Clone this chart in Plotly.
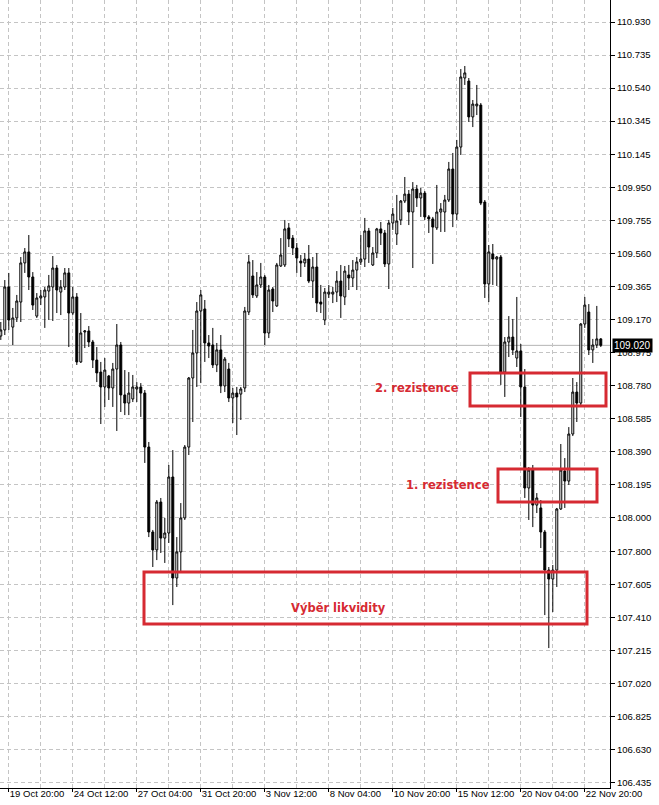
import plotly.graph_objects as go

# ---- data (H4 bars) ----
opens = [109.075, 109.111, 109.365, 109.128, 109.182, 109.276, 109.507, 109.572, 109.424, 109.193,
         109.300, 109.306, 109.341, 109.365, 109.477, 109.335, 109.365, 109.448, 109.211, 109.306,
         108.922, 109.099, 109.105, 109.040, 108.933, 108.862, 108.774, 108.839, 108.768, 108.880,
         109.022, 108.727, 108.679, 108.703, 108.762, 108.774, 108.738, 108.419, 107.917, 107.811,
         108.094, 107.881, 107.911, 108.242, 107.645, 107.799, 108.000, 108.419, 108.827, 108.975,
         109.223, 109.235, 109.034, 109.022, 108.904, 108.993, 108.780, 108.880, 108.709, 108.738,
         108.732, 108.768, 109.217, 109.430, 109.312, 109.377, 109.424, 109.093, 109.353, 109.253,
         109.489, 109.495, 109.714, 109.654, 109.595, 109.518, 109.507, 109.530, 109.400, 109.483,
         109.276, 109.170, 109.323, 109.323, 109.335, 109.400, 109.306, 109.436, 109.418, 109.465,
         109.513, 109.530, 109.696, 109.495, 109.566, 109.708, 109.684, 109.501, 109.743, 109.678,
         109.761, 109.873, 109.914, 109.808, 109.944, 109.891, 109.920, 109.779, 109.767, 109.714,
         109.808, 109.808, 109.879, 110.062, 109.796, 110.192, 110.600, 110.582, 110.370, 110.435,
         110.440, 109.867, 109.383, 109.560, 109.530, 109.542, 108.862, 109.040, 109.069, 108.945,
         108.987, 108.774, 108.177, 108.283, 108.076, 108.059, 107.917, 107.692, 107.639, 107.692,
         108.053, 108.277, 108.218, 108.496, 108.744, 108.679, 109.146, 109.217, 108.993, 109.022,
         109.058]
highs = [109.158, 109.406, 109.448, 109.241, 109.318, 109.542, 109.595, 109.672, 109.453, 109.329,
         109.347, 109.365, 109.436, 109.548, 109.495, 109.406, 109.477, 109.477, 109.365, 109.329,
         109.211, 109.110, 109.134, 109.052, 109.010, 108.922, 108.945, 108.845, 108.916, 109.146,
         109.040, 108.874, 108.862, 108.845, 108.803, 108.797, 108.756, 108.449, 107.929, 108.106,
         108.118, 108.000, 108.313, 108.401, 107.887, 108.088, 108.431, 108.833, 109.111, 109.276,
         109.347, 109.288, 109.081, 109.123, 109.034, 109.081, 108.951, 108.916, 108.768, 108.774,
         108.774, 109.247, 109.554, 109.524, 109.453, 109.507, 109.436, 109.377, 109.365, 109.507,
         109.654, 109.761, 109.743, 109.672, 109.625, 109.554, 109.566, 109.613, 109.542, 109.566,
         109.377, 109.359, 109.377, 109.365, 109.459, 109.495, 109.489, 109.495, 109.524, 109.542,
         109.672, 109.773, 109.714, 109.601, 109.714, 109.749, 109.702, 109.761, 109.832, 109.909,
         109.879, 110.015, 109.938, 109.985, 109.968, 109.950, 109.932, 109.790, 109.779, 109.968,
         109.861, 109.909, 110.104, 110.157, 110.234, 110.653, 110.671, 110.600, 110.470, 110.559,
         110.452, 109.879, 109.613, 109.619, 109.548, 109.554, 109.069, 109.193, 109.176, 109.306,
         109.028, 108.880, 108.301, 108.313, 108.147, 108.106, 107.929, 107.710, 107.722, 108.059,
         108.437, 108.354, 108.537, 108.827, 108.803, 109.152, 109.306, 109.264, 109.058, 109.253,
         109.063]
lows = [109.052, 109.081, 109.111, 109.022, 109.158, 109.158, 109.448, 109.347, 109.229, 109.182,
        109.258, 109.123, 109.170, 109.164, 109.211, 109.199, 109.347, 109.010, 109.199, 108.904,
        108.916, 109.004, 109.010, 108.886, 108.803, 108.555, 108.656, 108.697, 108.656, 108.514,
        108.626, 108.608, 108.608, 108.685, 108.685, 108.597, 108.325, 107.887, 107.710, 107.751,
        107.793, 107.734, 107.852, 107.485, 107.592, 107.680, 107.988, 108.372, 108.567, 108.774,
        108.797, 108.922, 108.945, 108.886, 108.862, 108.738, 108.744, 108.685, 108.561, 108.490,
        108.579, 108.744, 109.199, 109.300, 109.300, 109.359, 109.022, 109.063, 109.217, 109.247,
        109.483, 109.483, 109.601, 109.554, 109.448, 109.424, 109.483, 109.388, 109.300, 109.217,
        109.211, 109.140, 109.300, 109.270, 109.276, 109.182, 109.258, 109.347, 109.365, 109.347,
        109.495, 109.483, 109.507, 109.489, 109.536, 109.613, 109.483, 109.353, 109.702, 109.613,
        109.731, 109.861, 109.731, 109.477, 109.838, 109.779, 109.761, 109.684, 109.501, 109.702,
        109.690, 109.690, 109.867, 109.719, 109.761, 110.145, 110.559, 110.340, 110.310, 110.381,
        109.849, 109.300, 109.276, 109.377, 109.371, 108.786, 108.715, 108.951, 108.963, 108.892,
        108.597, 108.118, 107.988, 107.946, 108.029, 107.822, 107.426, 107.231, 107.444, 107.592,
        108.047, 108.059, 108.195, 108.484, 108.567, 108.667, 109.123, 108.963, 108.916, 109.004,
        109.010]
closes = [109.111, 109.365, 109.170, 109.182, 109.282, 109.507, 109.572, 109.424, 109.258, 109.300,
          109.312, 109.347, 109.371, 109.477, 109.347, 109.365, 109.448, 109.211, 109.306, 108.922,
          109.093, 109.105, 109.040, 108.933, 108.857, 108.774, 108.874, 108.768, 108.880, 109.022,
          108.727, 108.679, 108.738, 108.774, 108.774, 108.738, 108.419, 107.917, 107.811, 108.094,
          107.881, 107.911, 108.242, 107.645, 107.799, 108.000, 108.419, 108.827, 108.975, 109.223,
          109.318, 109.034, 109.016, 108.904, 108.993, 108.780, 108.939, 108.709, 108.738, 108.715,
          108.762, 109.223, 109.513, 109.318, 109.377, 109.424, 109.093, 109.347, 109.282, 109.495,
          109.554, 109.708, 109.649, 109.595, 109.536, 109.507, 109.530, 109.400, 109.483, 109.270,
          109.264, 109.335, 109.335, 109.335, 109.400, 109.312, 109.459, 109.418, 109.465, 109.513,
          109.530, 109.696, 109.601, 109.566, 109.708, 109.684, 109.501, 109.743, 109.796, 109.755,
          109.873, 109.914, 109.808, 109.944, 109.891, 109.920, 109.779, 109.767, 109.719, 109.808,
          109.826, 109.879, 110.062, 109.796, 110.192, 110.606, 110.630, 110.370, 110.446, 110.446,
          109.861, 109.383, 109.572, 109.530, 109.542, 108.862, 109.040, 109.069, 108.993, 108.987,
          108.774, 108.177, 108.283, 108.076, 108.118, 107.917, 107.692, 107.639, 107.692, 108.053,
          108.283, 108.218, 108.496, 108.744, 108.679, 109.146, 109.258, 108.993, 109.022, 109.058,
          109.020]

# time axis labels (every 16 bars) and their bar numbers
time_labels = ["19 Oct 20:00", "24 Oct 12:00", "27 Oct 04:00", "31 Oct 20:00", "3 Nov 12:00",
               "8 Nov 04:00", "10 Nov 20:00", "15 Nov 12:00", "20 Nov 04:00", "22 Nov 20:00"]
label_bars = [2, 18, 34, 50, 66, 82, 98, 114, 130, 146]
grid_bars_minor = [10, 26, 42, 58, 74, 90, 106, 122, 138]

# price axis labels
price_ticks = [110.930, 110.735, 110.540, 110.345, 110.145, 109.950, 109.755, 109.560, 109.365,
               109.170, 108.975, 108.780, 108.585, 108.390, 108.195, 108.000, 107.800, 107.605,
               107.410, 107.215, 107.020, 106.825, 106.630, 106.435]

# marked zones: name, first bar, last bar, low price, high price, label anchor
zone_names = ["Výběr likvidity", "1. rezistence", "2. rezistence"]
zone_bar_start = [35.8, 124.3, 117.3]
zone_bar_end = [146.55, 149.05, 151.3]
zone_low = [107.373, 108.094, 108.662]
zone_high = [107.680, 108.289, 108.857]
zone_label_bar = [84.3, 122.8, 115.0]
zone_label_price = [107.466, 108.192, 108.768]
zone_label_anchor = ["center", "right", "right"]

RED = "#d62a32"
x = list(range(len(opens)))

fig = go.Figure()
fig.add_trace(go.Candlestick(
    x=x, open=opens, high=highs, low=lows, close=closes,
    increasing=dict(line=dict(color="black", width=1), fillcolor="white"),
    decreasing=dict(line=dict(color="black", width=1), fillcolor="black"),
    whiskerwidth=0, hoverinfo="skip", showlegend=False,
))

# current price line and label
last = closes[-1]
fig.add_shape(type="line", xref="paper", x0=0, x1=1, y0=last, y1=last,
              line=dict(color="#b4b4b4", width=1), layer="between")
fig.add_annotation(xref="paper", x=1, xanchor="left", xshift=2, y=last, yanchor="middle",
                   text=f"{last:.3f}", showarrow=False,
                   font=dict(family="Liberation Sans", size=10, color="white"),
                   bgcolor="black", borderpad=1)

# zones
for i, name in enumerate(zone_names):
    fig.add_shape(type="rect", x0=zone_bar_start[i], x1=zone_bar_end[i],
                  y0=zone_low[i], y1=zone_high[i],
                  line=dict(color=RED, width=3), layer="above")
    fig.add_annotation(x=zone_label_bar[i], xanchor=zone_label_anchor[i],
                       y=zone_label_price[i], yanchor="middle",
                       text=f"<b>{name}</b>", showarrow=False,
                       font=dict(family="DejaVu Sans", size=11.5, color=RED))

grid_dash = "4px,3px"
fig.update_layout(
    width=659, height=805,
    margin=dict(l=0, r=49, t=0, b=17),
    paper_bgcolor="white", plot_bgcolor="white",
    showlegend=False,
    xaxis=dict(
        range=[-0.2, 152.3], rangeslider=dict(visible=False),
        tickmode="array", tickvals=label_bars, ticktext=time_labels,
        ticklabelposition="outside right", tickangle=0, ticklabelstandoff=-3,
        ticks="outside", ticklen=3, tickcolor="black",
        showgrid=True, gridcolor="#c4c4c4", griddash=grid_dash, gridwidth=1,
        minor=dict(tickmode="array", tickvals=grid_bars_minor, showgrid=True,
                   gridcolor="#c4c4c4", griddash=grid_dash, ticks=""),
        showline=True, linecolor="black", linewidth=1, zeroline=False,
        tickfont=dict(family="Liberation Sans", size=9.5, color="black"),
        fixedrange=True, automargin=False,
    ),
    yaxis=dict(
        side="right", range=[106.404, 111.061],
        tickmode="array", tickvals=price_ticks, ticktext=[f"{v:.3f}" for v in price_ticks],
        ticks="outside", ticklen=4, tickcolor="black",
        showgrid=True, gridcolor="#c4c4c4", griddash=grid_dash, gridwidth=1,
        showline=True, linecolor="black", linewidth=1, zeroline=False,
        tickfont=dict(family="Liberation Sans", size=9.5, color="black"),
        fixedrange=True, automargin=False,
    ),
)

fig.write_html("out.html", config={"displayModeBar": False},
               post_script="document.body.style.margin='0';document.body.style.padding='0';")
